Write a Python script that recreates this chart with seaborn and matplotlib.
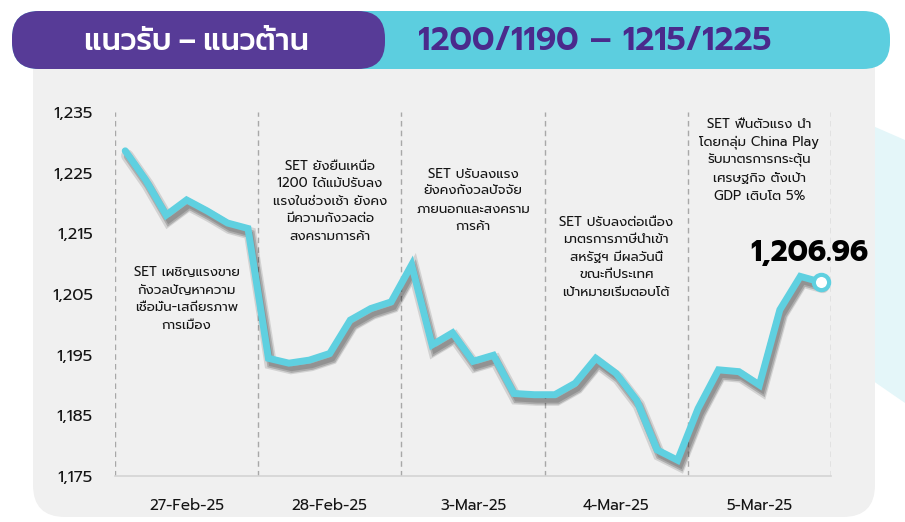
import matplotlib
matplotlib.use("Agg")
import matplotlib.pyplot as plt
import matplotlib.patheffects as pe
from matplotlib.patches import FancyBboxPatch, Polygon
from matplotlib.ticker import FuncFormatter
import pandas as pd
import seaborn as sns

# ข้อมูล SET รายช่วงเวลา (7 จุดต่อวัน)
days = ["27-Feb-25", "28-Feb-25", "3-Mar-25", "4-Mar-25", "5-Mar-25"]
set_27feb = [1228.6, 1223.8, 1218.0, 1220.5, 1218.7, 1216.7, 1215.8]
set_28feb = [1194.4, 1193.6, 1194.1, 1195.2, 1200.7, 1202.6, 1203.7]
set_3mar = [1209.8, 1196.6, 1198.6, 1193.9, 1194.9, 1188.6, 1188.4]
set_4mar = [1188.4, 1190.3, 1194.4, 1191.9, 1187.5, 1179.3, 1177.6]
set_5mar = [1186.1, 1192.5, 1192.2, 1190.0, 1202.4, 1207.9, 1206.96]
y_ticks = [1175, 1185, 1195, 1205, 1215, 1225, 1235]

notes = [
    "SET เผชิญแรงขาย\nกังวลปัญหาความ\nเชื่อมั่น-เสถียรภาพ\nการเมือง",
    "SET ยังยืนเหนือ\n1200 ได้แม้ปรับลง\nแรงในช่วงเช้า ยังคง\nมีความกังวลต่อ\nสงครามการค้า",
    "SET ปรับลงแรง\nยังคงกังวลปัจจัย\nภายนอกและสงคราม\nการค้า",
    "SET ปรับลงต่อเนื่อง\nมาตรการภาษีนำเข้า\nสหรัฐฯ มีผลวันนี้\nขณะที่ประเทศ\nเป้าหมายเริ่มตอบโต้",
    "SET ฟื้นตัวแรง นำ\nโดยกลุ่ม China Play\nรับมาตรการกระตุ้น\nเศรษฐกิจ ตั้งเป้า\nGDP เติบโต 5%",
]
note_top = [1209.6, 1227.1, 1225.8, 1217.9, 1234.0]

header_left = "แนวรับ – แนวต้าน"
header_right = "1200/1190 – 1215/1225"

values = set_27feb + set_28feb + set_3mar + set_4mar + set_5mar
n_per_day = len(set_27feb)
df = pd.DataFrame({"idx": range(len(values)), "SET": values})

sns.set_style("white")
plt.rcParams["font.family"] = ["Prompt", "DejaVu Sans"]

LINE = "#5fd0e0"
PURPLE = "#573b97"
CYAN = "#5ccedf"
PANEL = "#f0f0f0"
TXT = "#141414"

fig = plt.figure(figsize=(9.05, 5.22), dpi=100)
fig.patch.set_facecolor("white")

# พื้นหลัง (หน่วยเป็นพิกเซล)
bg = fig.add_axes([0, 0, 1, 1], zorder=0)
bg.set_xlim(0, 905)
bg.set_ylim(522, 0)
bg.axis("off")
bg.add_patch(Polygon([(850, 116), (905, 140), (905, 403), (850, 365)],
                     closed=True, facecolor="#e4f6f9", edgecolor="none"))
bg.add_patch(FancyBboxPatch((33, 30), 842, 487,
                            boxstyle="round,pad=0,rounding_size=32",
                            facecolor=PANEL, edgecolor="none"))
bg.add_patch(FancyBboxPatch((12, 11), 878, 58,
                            boxstyle="round,pad=0,rounding_size=27",
                            facecolor=CYAN, edgecolor="none"))
bg.add_patch(FancyBboxPatch((12, 11), 373, 58,
                            boxstyle="round,pad=0,rounding_size=27",
                            facecolor=PURPLE, edgecolor="none"))
bg.text(196, 42, header_left, color="white", fontsize=22.5, family=["Kanit", "DejaVu Sans"],
        fontweight="medium", ha="center", va="center")
bg.text(595, 42, header_right, color="#4a2a8c", fontsize=23.5, family=["Prompt", "DejaVu Sans"],
        fontweight="semibold", ha="center", va="center")

ax = fig.add_axes([115 / 905, 1 - 476 / 522, 716 / 905, 364 / 522], zorder=1)
ax.set_facecolor("none")

# เส้นแบ่งวัน
for k in range(len(days) + 1):
    ax.axvline(k * n_per_day - 0.5, color="#a8a8a8", lw=1, ls=(0, (4, 3)), zorder=1)

shadow = [
    pe.SimpleLineShadow(offset=(1.5, -3.5), shadow_color="#000000", alpha=0.12, linewidth=9),
    pe.SimpleLineShadow(offset=(2, -4), shadow_color="#000000", alpha=0.18, linewidth=6),
    pe.SimpleLineShadow(offset=(2, -4), shadow_color="#000000", alpha=0.15, linewidth=3.5),
    pe.Normal(),
]
sns.lineplot(data=df, x="idx", y="SET", ax=ax, color=LINE, lw=5,
             solid_joinstyle="miter", path_effects=shadow, zorder=3)

last_x = len(values) - 1
ax.plot([last_x], [values[-1]], marker="o", ms=11, mfc="white", mec=LINE, mew=3, zorder=4)
ax.annotate(f"{values[-1]:,.2f}", (last_x, values[-1]), xytext=(-8, 10),
            textcoords="offset points", ha="center", va="bottom",
            fontsize=21, fontweight="bold", color="black", zorder=5)

for k, (txt, top) in enumerate(zip(notes, note_top)):
    ax.text(k * n_per_day + 3, top, txt, ha="center", va="top", fontsize=9.6,
            fontweight="normal", color=TXT, linespacing=1.45, zorder=2)

ax.set_xlim(-0.5, len(values) - 0.5)
ax.set_ylim(1175, 1235)
ax.set_yticks(y_ticks)
ax.yaxis.set_major_formatter(FuncFormatter(lambda v, p: f"{v:,.0f}"))
ax.set_xticks([k * n_per_day + 3 for k in range(len(days))])
ax.set_xticklabels(days)
ax.tick_params(axis="both", length=0, labelsize=11, labelcolor=TXT)
ax.tick_params(axis="y", pad=16, labelsize=12)
ax.tick_params(axis="x", pad=16)
ax.set_xlabel("")
ax.set_ylabel("")
for s in ["top", "right", "left"]:
    ax.spines[s].set_visible(False)
ax.spines["bottom"].set_color("#d4d4d4")
ax.spines["bottom"].set_linewidth(1.2)

fig.savefig("out.png", dpi=100)
